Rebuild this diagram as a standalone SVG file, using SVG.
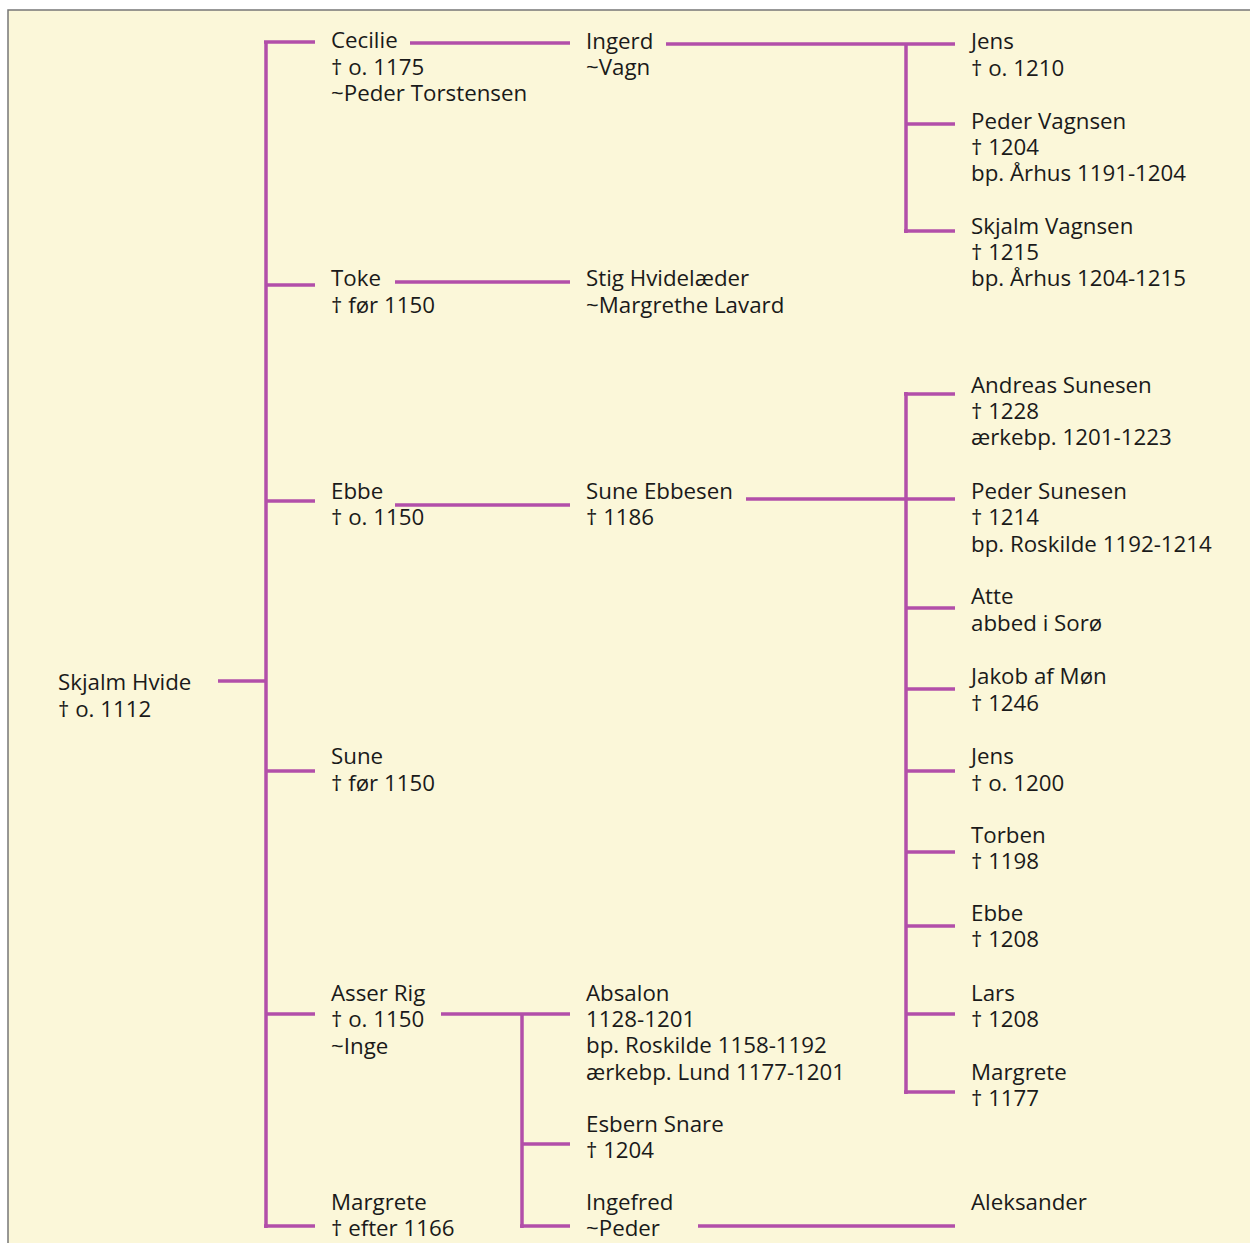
<svg xmlns="http://www.w3.org/2000/svg" width="1250" height="1243" viewBox="0 0 1250 1243">
<style>
.t{font-family:"Open Sans","Noto Sans",sans-serif;font-size:22.3px;fill:#1a1a1a}
.c line{stroke:#b24fa9;stroke-width:3.5;stroke-linecap:butt}
</style>
<rect x="0" y="0" width="1250" height="1243" fill="#ffffff"/>
<rect x="8" y="10" width="1260" height="1260" fill="#fbf7d9" stroke="#777" stroke-width="1.5"/>
<g class="c" id="connectors">
<line x1="218" y1="681" x2="266" y2="681"/>
<line x1="266" y1="41" x2="266" y2="1228"/>
<line x1="264" y1="42" x2="315" y2="42"/>
<line x1="266" y1="285" x2="315" y2="285"/>
<line x1="266" y1="501" x2="315" y2="501"/>
<line x1="266" y1="771" x2="315" y2="771"/>
<line x1="266" y1="1014" x2="315" y2="1014"/>
<line x1="264" y1="1226" x2="315" y2="1226"/>
<line x1="410" y1="43" x2="570" y2="43"/>
<line x1="666" y1="44" x2="955" y2="44"/>
<line x1="906" y1="44" x2="906" y2="233"/>
<line x1="906" y1="124" x2="955" y2="124"/>
<line x1="904" y1="231" x2="955" y2="231"/>
<line x1="395" y1="282" x2="570" y2="282"/>
<line x1="395" y1="505" x2="570" y2="505"/>
<line x1="746" y1="499" x2="955" y2="499"/>
<line x1="906" y1="392" x2="906" y2="1094"/>
<line x1="904" y1="394" x2="955" y2="394"/>
<line x1="906" y1="608" x2="955" y2="608"/>
<line x1="906" y1="689" x2="955" y2="689"/>
<line x1="906" y1="771" x2="955" y2="771"/>
<line x1="906" y1="852" x2="955" y2="852"/>
<line x1="906" y1="926" x2="955" y2="926"/>
<line x1="906" y1="1014" x2="955" y2="1014"/>
<line x1="904" y1="1092" x2="955" y2="1092"/>
<line x1="441" y1="1014" x2="570" y2="1014"/>
<line x1="522" y1="1014" x2="522" y2="1228"/>
<line x1="522" y1="1144" x2="570" y2="1144"/>
<line x1="520" y1="1226" x2="570" y2="1226"/>
<line x1="698" y1="1226" x2="955" y2="1226"/>
</g>
<g id="skjalm-hvide"><text class="t" x="58" y="690">Skjalm Hvide<tspan x="58" y="717">† o. 1112</tspan></text></g>
<g id="cecilie"><text class="t" x="331" y="48">Cecilie<tspan x="331" y="75">† o. 1175</tspan><tspan x="331" y="101">~Peder Torstensen</tspan></text></g>
<g id="toke"><text class="t" x="331" y="286">Toke<tspan x="331" y="313">† før 1150</tspan></text></g>
<g id="ebbe"><text class="t" x="331" y="499">Ebbe<tspan x="331" y="525">† o. 1150</tspan></text></g>
<g id="sune"><text class="t" x="331" y="764">Sune<tspan x="331" y="791">† før 1150</tspan></text></g>
<g id="asser-rig"><text class="t" x="331" y="1001">Asser Rig<tspan x="331" y="1027">† o. 1150</tspan><tspan x="331" y="1054">~Inge</tspan></text></g>
<g id="margrete1"><text class="t" x="331" y="1210">Margrete<tspan x="331" y="1236">† efter 1166</tspan></text></g>
<g id="ingerd"><text class="t" x="586" y="49">Ingerd<tspan x="586" y="75">~Vagn</tspan></text></g>
<g id="stig"><text class="t" x="586" y="286">Stig Hvidelæder<tspan x="586" y="313">~Margrethe Lavard</tspan></text></g>
<g id="sune-ebbesen"><text class="t" x="586" y="499">Sune Ebbesen<tspan x="586" y="525">† 1186</tspan></text></g>
<g id="absalon"><text class="t" x="586" y="1001">Absalon<tspan x="586" y="1027">1128-1201</tspan><tspan x="586" y="1053">bp. Roskilde 1158-1192</tspan><tspan x="586" y="1080">ærkebp. Lund 1177-1201</tspan></text></g>
<g id="esbern"><text class="t" x="586" y="1132">Esbern Snare<tspan x="586" y="1158">† 1204</tspan></text></g>
<g id="ingefred"><text class="t" x="586" y="1210">Ingefred<tspan x="586" y="1236">~Peder</tspan></text></g>
<g id="jens1"><text class="t" x="971" y="49">Jens<tspan x="971" y="76">† o. 1210</tspan></text></g>
<g id="peder-vagnsen"><text class="t" x="971" y="129">Peder Vagnsen<tspan x="971" y="155">† 1204</tspan><tspan x="971" y="181">bp. Århus 1191-1204</tspan></text></g>
<g id="skjalm-vagnsen"><text class="t" x="971" y="234">Skjalm Vagnsen<tspan x="971" y="260">† 1215</tspan><tspan x="971" y="286">bp. Århus 1204-1215</tspan></text></g>
<g id="andreas"><text class="t" x="971" y="393">Andreas Sunesen<tspan x="971" y="419">† 1228</tspan><tspan x="971" y="445">ærkebp. 1201-1223</tspan></text></g>
<g id="peder-sunesen"><text class="t" x="971" y="499">Peder Sunesen<tspan x="971" y="525">† 1214</tspan><tspan x="971" y="552">bp. Roskilde 1192-1214</tspan></text></g>
<g id="atte"><text class="t" x="971" y="604">Atte<tspan x="971" y="631">abbed i Sorø</tspan></text></g>
<g id="jakob"><text class="t" x="971" y="684">Jakob af Møn<tspan x="971" y="711">† 1246</tspan></text></g>
<g id="jens2"><text class="t" x="971" y="764">Jens<tspan x="971" y="791">† o. 1200</tspan></text></g>
<g id="torben"><text class="t" x="971" y="843">Torben<tspan x="971" y="869">† 1198</tspan></text></g>
<g id="ebbe2"><text class="t" x="971" y="921">Ebbe<tspan x="971" y="947">† 1208</tspan></text></g>
<g id="lars"><text class="t" x="971" y="1001">Lars<tspan x="971" y="1027">† 1208</tspan></text></g>
<g id="margrete2"><text class="t" x="971" y="1080">Margrete<tspan x="971" y="1106">† 1177</tspan></text></g>
<g id="aleksander"><text class="t" x="971" y="1210">Aleksander</text></g>
</svg>
